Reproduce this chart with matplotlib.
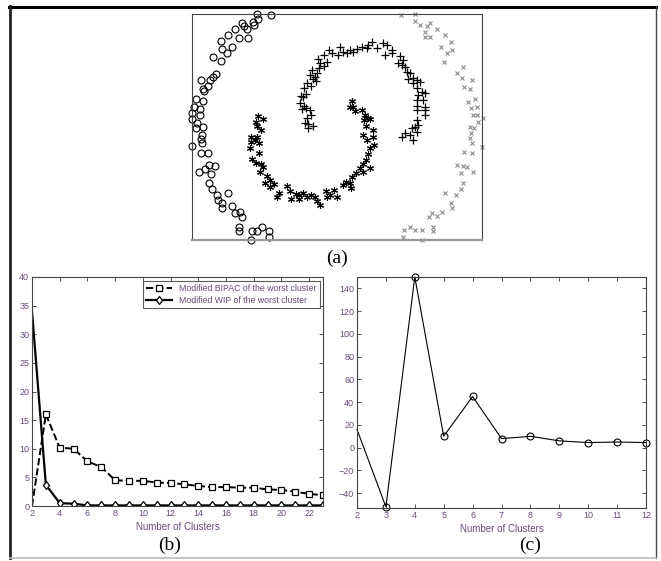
import matplotlib
matplotlib.use("Agg")
import matplotlib.pyplot as plt
from matplotlib.lines import Line2D

plt.rcParams['font.family'] = ['Liberation Sans', 'DejaVu Sans']

# ---- (a) spiral clusters (box units: x 0..290, y 0..226)
circ_x = [65, 79, 66, 61, 50, 52, 62, 55, 43, 36, 47, 56, 29, 40, 30, 35, 29, 21, 24, 21, 18, 9, 16, 11, 12,
          4, 11, 2, 8, 0, 8, 0, 5, 4, 11, 10, 9, 10, 0, 9, 16, 17, 23, 13, 7, 19, 17, 20, 25, 36, 26, 30, 30,
          40, 43, 48, 50, 47, 47, 60, 65, 70, 77, 77, 59]
circ_y = [226, 225, 221, 218, 217, 214, 215, 211, 211, 205, 202, 202, 199, 193, 191, 187, 179, 183, 166, 163,
          160, 160, 154, 151, 149, 141, 139, 133, 131, 127, 125, 121, 117, 112, 113, 105, 101, 97, 94, 87, 87,
          75, 74, 71, 68, 66, 57, 51, 45, 47, 40, 37, 32, 34, 27, 28, 23, 13, 9, 9, 9, 13, 9, 3, 0]

star_x = [66, 71, 64, 65, 69, 59, 65, 63, 59, 67, 58, 67, 60, 64, 69, 71, 68, 75, 73, 78, 82, 78, 85, 87,
          95, 98, 104, 99, 107, 111, 115, 107, 119, 123, 125, 128, 134, 135, 142, 145, 138, 151, 154, 159,
          158, 160, 164, 161, 160, 163, 158, 170, 173, 176, 172, 178, 174, 181, 171, 181, 175, 182, 178,
          176, 174, 171, 178, 168, 171]
star_y = [124, 121, 118, 114, 110, 103, 103, 100, 98, 97, 92, 87, 81, 77, 76, 73, 68, 64, 57, 60, 56, 53,
          43, 47, 54, 49, 46, 41, 45, 47, 43, 41, 45, 43, 39, 35, 49, 43, 50, 43, 45, 55, 58, 52, 57, 63, 67,
          133, 139, 129, 133, 130, 125, 122, 120, 121, 114, 110, 105, 103, 100, 95, 92, 86, 80, 76, 72, 72,
          68]

plus_x = [116, 121, 116, 113, 115, 119, 118, 114, 110, 112, 108, 111, 114, 109, 112, 115, 119, 124, 121,
          123, 118, 125, 120, 127, 132, 128, 126, 135, 132, 137, 140, 146, 148, 151, 155, 158, 161, 165, 170,
          175, 176, 180, 185, 191, 195, 200, 200, 193, 208, 211, 206, 210, 213, 215, 218, 216, 221, 225, 221,
          228, 225, 230, 226, 233, 225, 231, 225, 233, 225, 233, 233, 225, 226, 223, 220, 225, 218, 213, 210,
          221]
plus_y = [112, 114, 116, 117, 122, 125, 130, 132, 131, 134, 137, 143, 146, 144, 152, 157, 154, 159, 161,
          163, 165, 167, 170, 172, 174, 177, 181, 178, 185, 190, 187, 185, 193, 188, 187, 190, 188, 191, 193,
          192, 195, 198, 192, 197, 195, 190, 187, 185, 184, 180, 177, 175, 173, 168, 167, 161, 162, 160, 157,
          158, 152, 148, 145, 147, 140, 140, 134, 133, 130, 130, 125, 120, 115, 113, 112, 108, 105, 107, 103,
          100]

xm_x = [209, 223, 223, 228, 235, 238, 233, 233, 238, 245, 253, 249, 259, 255, 260, 252, 271, 265, 270, 280,
        272, 278, 283, 276, 279, 285, 285, 281, 291, 286, 278, 282, 279, 278, 280, 290, 272, 280, 265, 271,
        275, 269, 281, 271, 269, 253, 264, 259, 260, 250, 240, 237, 245, 241, 241, 212, 218, 223, 230, 211,
        230]
xm_y = [225, 226, 219, 215, 214, 217, 208, 203, 203, 211, 205, 193, 198, 187, 190, 178, 173, 167, 162, 160,
        153, 151, 141, 138, 132, 133, 125, 125, 122, 118, 113, 112, 107, 102, 97, 93, 88, 87, 75, 74, 73, 67,
        68, 57, 51, 47, 45, 37, 32, 28, 27, 23, 24, 13, 9, 10, 13, 10, 10, 3, 0]

# ---- (b)
clusters_b = list(range(2, 24))
bipac = [0, 16, 10.2, 10, 7.8, 6.8, 4.5, 4.4, 4.4, 4.1, 4.0, 3.8, 3.5, 3.3, 3.3, 3.2, 3.2, 2.9, 2.8, 2.5,
         2.1, 1.9]
wip = [34, 3.7, 0.5, 0.4, 0.1, 0.1, 0.1, 0.1, 0.1, 0.1, 0.1, 0.1, 0.1, 0.1, 0.1, 0.1, 0.1, 0.1, 0.1, 0.1,
       0.1, 0.1]

# ---- (c)
clusters_c = list(range(2, 13))
score_c = [16, -52, 150, 10, 45, 8, 10, 6, 4.5, 5, 4.5]

tick_col = '#6a4a7a'
W, H = 661, 561
fig = plt.figure(figsize=(W / 100, H / 100), dpi=100)


def fx(px):
    return px / W


def fy(py):
    return 1 - py / H


# outer frame
fig.add_artist(Line2D([fx(9), fx(656)], [fy(6.5), fy(6.5)], color='black', lw=2.2))
fig.add_artist(Line2D([fx(10), fx(10)], [fy(6), fy(558)], color='#222222', lw=2))
fig.add_artist(Line2D([fx(656), fx(656)], [fy(6), fy(558)], color='#444444', lw=1))
fig.add_artist(Line2D([fx(10), fx(656)], [fy(558), fy(558)], color='#bbbbbb', lw=1.2))

# (a)
axa = fig.add_axes([fx(192), fy(240), fx(482 - 192), (240 - 14) / H])
axa.plot(circ_x, circ_y, 'o', ms=5, mfc='none', mec='black', mew=0.8, clip_on=False)
axa.plot(star_x, star_y, marker=(6, 2, 0), ls='none', ms=5, color='black', mew=0.8, clip_on=False)
axa.plot(plus_x, plus_y, '+', ms=6, color='black', mew=0.9, clip_on=False)
axa.plot(xm_x, xm_y, 'x', ms=3, color='#8a8a8a', mew=0.8, clip_on=False)
axa.set_xlim(0, 290)
axa.set_ylim(0, 226)
axa.set_xticks([])
axa.set_yticks([])
for s in ['top', 'left', 'right']:
    axa.spines[s].set_color('#444444')
axa.spines['bottom'].set_color('#999999')
axa.spines['bottom'].set_linewidth(1.6)
fig.text(fx(337), fy(258), '(a)', ha='center', va='center', fontsize=14, family='Liberation Serif')


def style(ax):
    ax.tick_params(direction='in', top=True, right=True, labelsize=6.5, labelcolor=tick_col,
                   length=3, width=0.6, color='#333333', pad=2)
    for s in ax.spines.values():
        s.set_color('#444444')
        s.set_linewidth(0.8)
    ax.set_xlabel('Number of Clusters', fontsize=7, color=tick_col, labelpad=3)


# (b)
axb = fig.add_axes([fx(32), fy(506), fx(323 - 32), (506 - 277) / H])
axb.plot(clusters_b, bipac, '--s', color='black', lw=1.4, ms=5, mfc='white', mew=0.9,
         markevery=list(range(1, len(clusters_b))), label='Modified BIPAC of the worst cluster')
axb.plot(clusters_b, wip, '-d', color='black', lw=1.6, ms=4.5, mfc='white', mew=0.9,
         markevery=list(range(1, len(clusters_b))), label='Modified WIP of the worst cluster')
axb.set_xlim(2, 23)
axb.set_ylim(0, 40)
axb.set_xticks(range(2, 23, 2))
axb.set_yticks(range(0, 41, 5))
style(axb)
leg = axb.legend(loc='upper right', fontsize=6.3, frameon=True, fancybox=False, handlelength=3,
                 borderaxespad=0.4, borderpad=0.35, labelspacing=0.35, labelcolor=tick_col)
leg.get_frame().set_edgecolor('#333333')
leg.get_frame().set_linewidth(0.8)
fig.text(fx(170), fy(545), '(b)', ha='center', va='center', fontsize=14, family='Liberation Serif')

# (c)
axc = fig.add_axes([fx(357), fy(508), fx(646 - 357), (508 - 277) / H])
axc.plot(clusters_c, score_c, '-o', color='black', lw=0.8, ms=5, mfc='none', mew=0.8,
         markevery=list(range(1, len(clusters_c))), clip_on=False)
axc.set_xlim(2, 12)
axc.set_ylim(-53, 150)
axc.set_xticks(clusters_c)
axc.set_yticks(range(-40, 141, 20))
style(axc)
fig.text(fx(530), fy(545), '(c)', ha='center', va='center', fontsize=14, family='Liberation Serif')

fig.savefig('out.png', dpi=100)
